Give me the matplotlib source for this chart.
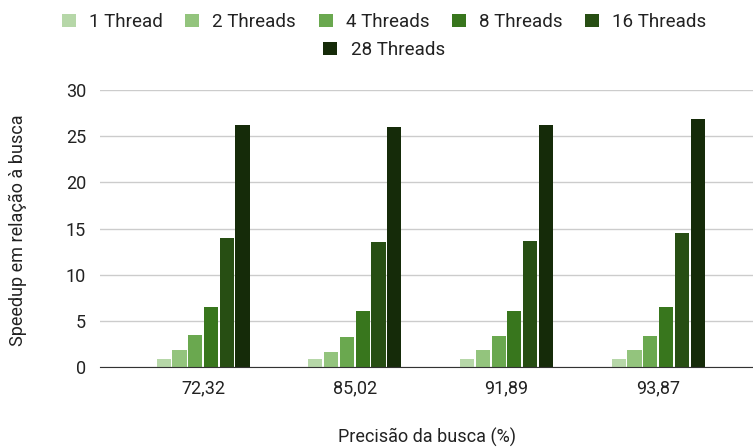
import numpy as np
import matplotlib
matplotlib.use("Agg")
import matplotlib.pyplot as plt
from matplotlib.patches import Patch

plt.rcParams['font.family'] = ['Roboto', 'DejaVu Sans']

precisions = ['72,32', '85,02', '91,89', '93,87']
series = ['1 Thread', '2 Threads', '4 Threads', '8 Threads', '16 Threads', '28 Threads']
speedup_1 = [0.92, 0.92, 0.92, 0.92]
speedup_2 = [1.8, 1.6, 1.8, 1.8]
speedup_4 = [3.5, 3.2, 3.4, 3.4]
speedup_8 = [6.5, 6.1, 6.1, 6.5]
speedup_16 = [13.95, 13.5, 13.7, 14.55]
speedup_28 = [26.2, 26.0, 26.2, 26.9]
colors = ['#b6d7a8', '#93c47d', '#6aa84f', '#38761d', '#274e13', '#152b09']

values = [speedup_1, speedup_2, speedup_4, speedup_8, speedup_16, speedup_28]
txt = '#222222'
fs = 13
leg_fs = 13.5

fig = plt.figure(figsize=(7.53, 4.48), dpi=100)
ax = fig.add_axes([100 / 753, 1 - 367 / 448, 653 / 753, 277 / 448])

x = np.arange(len(precisions))
slot = 0.104
for i, (vals, c) in enumerate(zip(values, colors)):
    ax.bar(x + (i - 2.5) * slot, vals, width=slot * 0.9, color=c, zorder=3)

ax.set_ylim(0, 30)
ax.set_xlim(-0.68, 3.625)
ax.set_yticks(range(0, 31, 5))
ax.set_xticks(x)
ax.set_xticklabels(precisions)
ax.grid(axis='y', color='#cccccc', linewidth=1, zorder=0)
for s in ['top', 'right', 'left']:
    ax.spines[s].set_visible(False)
ax.spines['bottom'].set_color('#333333')
ax.spines['bottom'].set_zorder(4)
ax.tick_params(axis='both', length=0, labelsize=fs, colors=txt)
ax.tick_params(axis='x', pad=9)
ax.tick_params(axis='y', pad=10)

fig.text(427 / 753, 1 - 437 / 448, 'Precisão da busca (%)', fontsize=fs, color=txt,
         ha='center', va='center')
fig.text(18 / 753, 1 - 230 / 448, 'Speedup em relação à busca', fontsize=fs, color=txt,
         ha='center', va='center', rotation=90)

handles = [Patch(facecolor=c, edgecolor='none') for c in colors]
fig.legend(handles[:5], series[:5], loc='center', bbox_to_anchor=(0.51, 1 - 22 / 448),
           ncol=5, frameon=False, fontsize=leg_fs, handlelength=0.75, handleheight=0.75,
           handletextpad=0.7, columnspacing=1.2, labelcolor=txt)
fig.legend(handles[5:], series[5:], loc='center', bbox_to_anchor=(0.51, 1 - 50 / 448),
           ncol=1, frameon=False, fontsize=leg_fs, handlelength=0.75, handleheight=0.75,
           handletextpad=0.7, labelcolor=txt)

fig.savefig('out.png', dpi=100)
